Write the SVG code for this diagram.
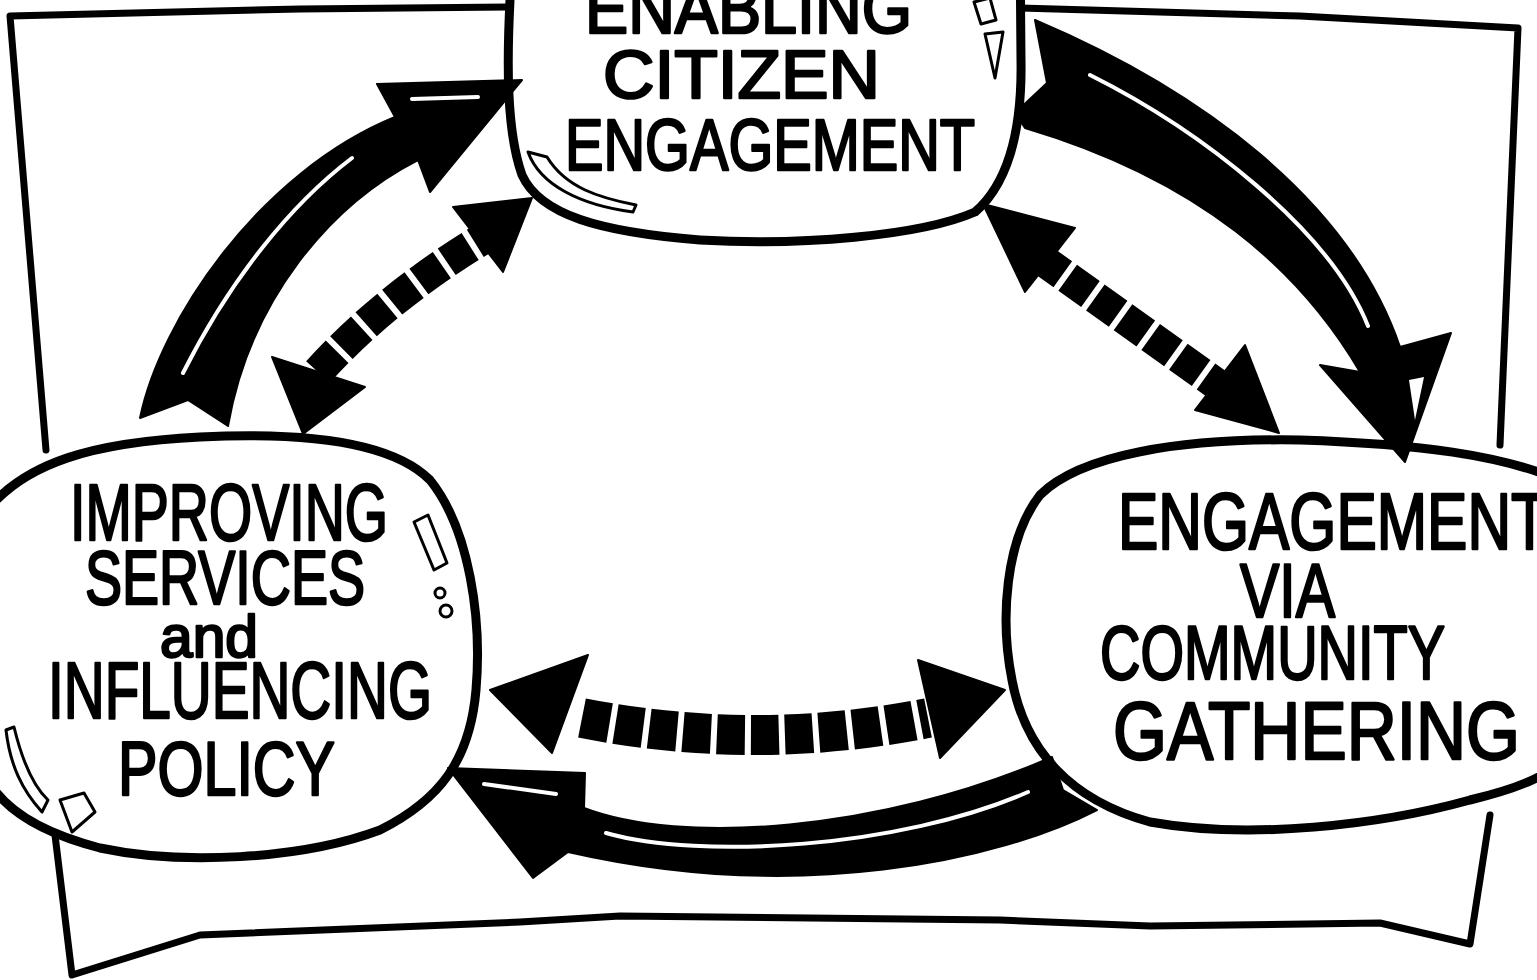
<svg xmlns="http://www.w3.org/2000/svg" width="1537" height="980" viewBox="0 0 1537 980">
<style>
.frame{fill:none;stroke:#000;stroke-width:7;stroke-linecap:round;stroke-linejoin:round}
.node{fill:#fff;stroke:#000;stroke-width:9;stroke-linejoin:round}
.lbl{font-family:"Liberation Sans",Arial,sans-serif;font-weight:normal;fill:#000;stroke:#000;stroke-width:2.5;stroke-linejoin:round}
.shine{fill:#fff;stroke:#000;stroke-width:3;stroke-linejoin:round}
.solid{fill:#000;stroke:#000;stroke-width:2;stroke-linejoin:round}
.hl{fill:none;stroke:#fff;stroke-width:4;stroke-linecap:round}
.dash{fill:none;stroke:#000;stroke-dasharray:28 6}
.head{fill:#000;stroke:#000;stroke-width:2;stroke-linejoin:round}
</style>
<rect width="1537" height="980" fill="#fff"/>
<g id="frame">
<path class="frame" d="M508,7 L300,9 L10,16 L46,450"/>
<path class="frame" d="M1020,8 L1300,16 L1518,28 L1500,445"/>
<path class="frame" d="M55,835 L72,975 L200,935 L520,922 L620,916 L1000,920 L1150,926 L1380,923 L1470,944 L1490,815"/>
</g>
<g id="node-top">
<path class="node" d="M514,-60 L510,0 C507,60 506,130 522,175 C540,215 600,232 700,240 C800,246 920,236 975,212 C1012,180 1022,120 1021,60 L1020,-60 Z"/>
<path class="shine" d="M528,152 L547,157 C566,188 600,198 636,205 L633,212 C580,205 540,185 528,152 Z"/>
<path class="shine" d="M974,2 L990,-2 L996,20 L981,24 Z"/>
<path class="shine" d="M985,34 L1003,32 L995,78 Z"/>
<text class="lbl" x="585" y="33" font-size="70" textLength="327" lengthAdjust="spacingAndGlyphs">ENABLING</text>
<text class="lbl" x="603" y="98" font-size="68" textLength="277" lengthAdjust="spacingAndGlyphs">CITIZEN</text>
<text class="lbl" x="565" y="170" font-size="72" textLength="410" lengthAdjust="spacingAndGlyphs">ENGAGEMENT</text>
</g>
<g id="node-left">
<path class="node" d="M-20,520 C20,460 100,442 200,437 C300,432 390,440 430,480 C470,530 482,620 476,690 C470,760 440,800 380,830 C300,860 180,865 100,848 C30,830 -10,800 -20,760 Z"/>
<path class="shine" d="M414,522 L428,515 L447,563 L434,570 Z"/>
<circle class="shine" cx="440" cy="593" r="5"/>
<circle class="shine" cx="446" cy="611" r="6"/>
<path class="shine" d="M6,730 L14,727 C22,760 32,785 48,800 L42,812 C22,790 10,765 6,730 Z"/>
<path class="shine" d="M60,800 L84,793 L95,812 L72,832 Z"/>
<text class="lbl" x="70" y="540" font-size="80" textLength="318" lengthAdjust="spacingAndGlyphs">IMPROVING</text>
<text class="lbl" x="85" y="604" font-size="76" textLength="280" lengthAdjust="spacingAndGlyphs">SERVICES</text>
<text class="lbl" x="160" y="657" font-size="60" textLength="98" lengthAdjust="spacingAndGlyphs">and</text>
<text class="lbl" x="48" y="718" font-size="80" textLength="384" lengthAdjust="spacingAndGlyphs">INFLUENCING</text>
<text class="lbl" x="118" y="795" font-size="76" textLength="217" lengthAdjust="spacingAndGlyphs">POLICY</text>
</g>
<g id="node-right">
<path class="node" d="M1560,480 C1500,455 1420,444 1300,440 C1180,438 1080,455 1040,495 C1005,540 1000,620 1012,680 C1025,750 1070,800 1150,822 C1250,840 1380,825 1470,800 C1520,788 1550,775 1560,760 Z"/>
<text class="lbl" x="1118" y="549" font-size="80" textLength="430" lengthAdjust="spacingAndGlyphs">ENGAGEMENT</text>
<text class="lbl" x="1240" y="617" font-size="76" textLength="95" lengthAdjust="spacingAndGlyphs">VIA</text>
<text class="lbl" x="1100" y="679" font-size="76" textLength="345" lengthAdjust="spacingAndGlyphs">COMMUNITY</text>
<text class="lbl" x="1113" y="759" font-size="82" textLength="407" lengthAdjust="spacingAndGlyphs">GATHERING</text>
</g>
<g id="connectors">
<path id="arrow-left-top" class="solid" d="M140,418 C160,320 260,172 395,117 L377,84 L522,80 L430,192 L418,160 C330,205 250,300 228,426 L188,400 Z"/>
<path class="hl" d="M183,373 C230,280 290,205 352,158"/>
<path class="hl" d="M412,99 L478,97" stroke-width="5"/>
<g id="dash-left-top">
<path class="dash" stroke-width="32" d="M318,372 Q385,298 484,238"/>
<path class="head" d="M272,357 L365,387 L303,434 Z"/>
<path class="head" d="M453,207 L532,198 L503,272 Z"/>
</g>
<path id="arrow-top-right" class="solid" d="M1035,20 C1200,90 1350,200 1400,347 L1451,333 L1405,462 L1320,365 L1360,372 C1300,270 1200,180 1025,128 L1015,113 L1047,83 Z"/>
<path class="hl" d="M1090,75 C1200,130 1330,230 1368,326"/>
<path d="M1409,380 L1424,377 L1415,420 Z" fill="#fff"/>
<g id="dash-top-right">
<path class="dash" stroke-width="32" d="M1040,258 L1222,388"/>
<path class="head" d="M983,204 L1075,228 L1025,292 Z"/>
<path class="head" d="M1245,345 L1279,433 L1195,410 Z"/>
</g>
<g id="dash-bottom">
<path class="dash" stroke-width="40" stroke-dasharray="36 6" d="M582,718 Q755,752 928,718"/>
<path class="head" d="M588,655 L490,690 L552,753 Z"/>
<path class="head" d="M918,660 L1005,690 L940,758 Z"/>
</g>
<path id="arrow-bottom" class="solid" d="M584,808 C680,845 880,832 1052,757 L1063,790 L1097,810 C1000,860 800,905 568,852 L533,878 L448,768 L585,773 Z"/>
<path class="hl" d="M606,833 C700,860 900,848 1028,792"/>
<path class="hl" d="M484,784 L556,794"/>
</g>
</svg>
